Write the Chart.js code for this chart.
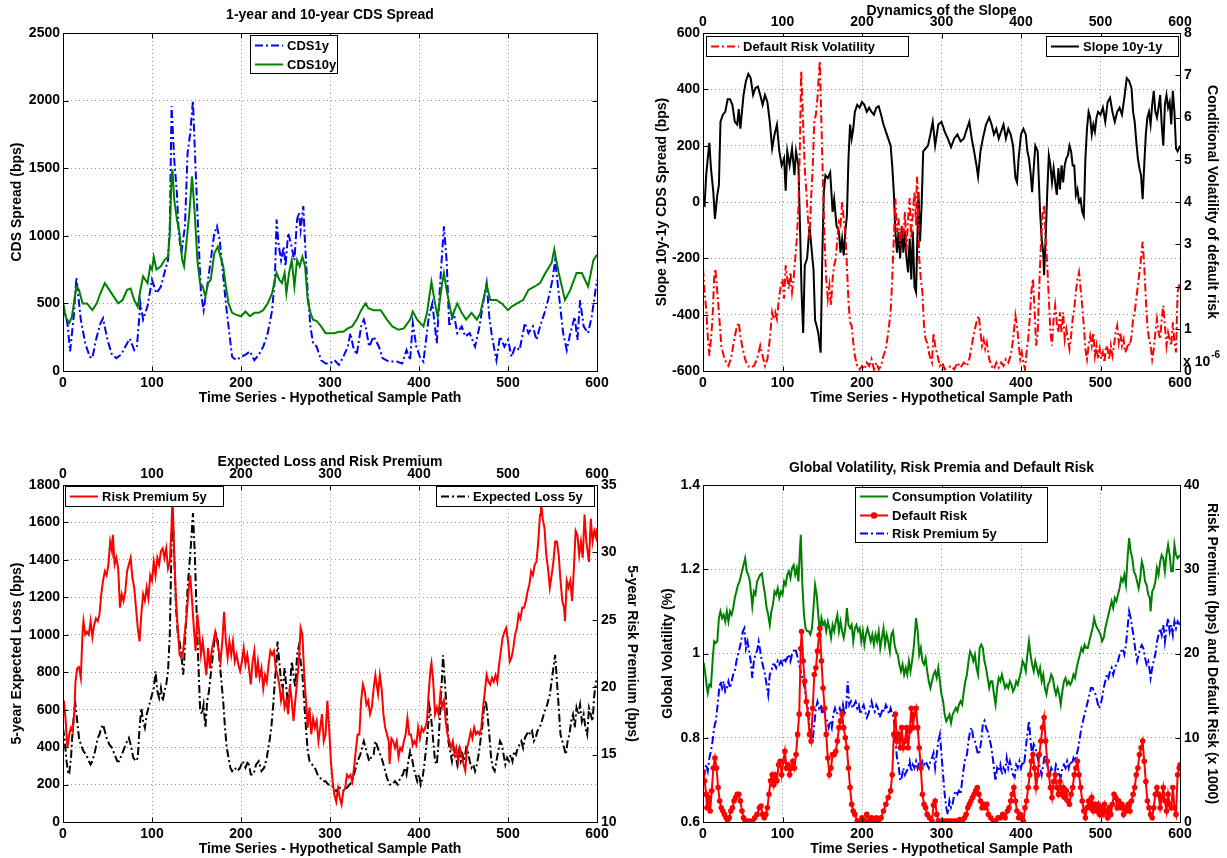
<!DOCTYPE html>
<html lang="en">
<head>
<meta charset="UTF-8">
<title>CDS spreads, slope, expected loss and volatility</title>
<script src="https://cdn.jsdelivr.net/npm/chart.js"></script>
<style>
  body { margin: 0; background: #fff; }
  .wrap { position: relative; width: 1227px; height: 858px; }
  .wrap canvas { position: absolute; left: 0; top: 0; }
</style>
</head>
<body>
<div class="wrap">
  <canvas id="cds" width="1227" height="858"></canvas>
  <canvas id="slope" width="1227" height="858"></canvas>
  <canvas id="loss" width="1227" height="858"></canvas>
  <canvas id="vol" width="1227" height="858"></canvas>
</div>
<script>
// ---- data, [time, value] ----
const cds1y = [[0,500],[5,350],[8,145],[12,400],[15,690],[20,380],[25,205],[30,105],[33,95],[37,230],[42,350],[45,390],[50,230],[55,120],[60,95],[65,120],[70,180],[75,240],[80,155],[83,180],[87,500],[90,380],[95,480],[100,675],[105,575],[110,625],[115,750],[118,820],[120,1070],[122,1960],[125,1560],[128,1315],[130,1020],[133,870],[137,1070],[140,1615],[143,1760],[146,2000],[149,1490],[152,1020],[155,575],[158,450],[162,625],[166,820],[170,1020],[173,1070],[176,970],[180,700],[183,500],[186,330],[190,105],[195,80],[200,105],[205,120],[210,145],[215,80],[220,120],[225,180],[230,280],[235,450],[238,675],[240,1120],[242,945],[245,820],[248,920],[250,775],[253,1020],[256,945],[260,820],[263,1120],[265,1170],[267,1045],[270,1220],[272,945],[275,575],[278,330],[281,205],[285,180],[290,80],[295,55],[300,55],[305,80],[310,45],[315,105],[320,180],[323,280],[326,180],[330,120],[335,330],[338,380],[340,330],[344,180],[349,255],[355,180],[359,95],[366,70],[375,70],[381,55],[386,155],[390,80],[393,355],[397,180],[401,105],[405,70],[411,400],[415,500],[420,205],[424,675],[428,1070],[431,820],[434,330],[439,430],[443,280],[448,330],[452,255],[457,280],[463,180],[468,330],[472,500],[476,650],[479,400],[482,255],[487,80],[491,255],[496,180],[500,230],[504,105],[508,180],[513,155],[519,355],[523,280],[528,330],[532,230],[536,330],[541,430],[545,525],[550,675],[553,820],[557,575],[562,280],[566,155],[570,280],[575,400],[578,230],[581,525],[585,330],[590,280],[594,400],[600,675]];
const cds10y = [[0,500],[3,400],[7,355],[10,400],[15,625],[18,600],[22,500],[27,500],[30,475],[33,450],[38,500],[42,575],[47,650],[52,600],[57,550],[62,500],[67,525],[72,600],[76,610],[80,525],[84,475],[87,600],[90,700],[95,650],[98,775],[100,750],[102,845],[105,750],[110,775],[114,820],[118,845],[120,1020],[122,1440],[123,1490],[125,1265],[128,1120],[131,1020],[134,820],[136,775],[139,970],[142,1170],[145,1440],[148,1170],[151,820],[154,650],[157,625],[160,550],[163,650],[166,675],[170,870],[174,920],[177,845],[180,775],[183,625],[186,500],[190,430],[195,415],[200,405],[205,440],[210,405],[215,430],[220,430],[225,450],[230,500],[235,575],[238,675],[240,725],[243,675],[246,650],[249,725],[251,575],[254,725],[257,820],[260,625],[263,820],[266,775],[269,845],[272,775],[275,525],[278,430],[281,380],[285,370],[290,330],[295,280],[300,280],[305,280],[310,290],[315,290],[320,315],[325,330],[330,380],[335,450],[340,500],[343,465],[349,450],[357,450],[364,380],[370,330],[377,305],[383,315],[390,380],[393,440],[398,380],[405,330],[409,430],[414,660],[418,500],[421,400],[426,650],[428,725],[431,600],[437,400],[443,500],[448,430],[453,380],[459,430],[465,380],[469,430],[476,640],[480,525],[487,525],[493,500],[500,450],[504,475],[510,500],[517,525],[523,600],[530,625],[536,650],[542,725],[549,800],[552,900],[557,725],[564,525],[570,600],[577,725],[583,725],[590,625],[596,820],[600,860]];

const slope = [[0,-5],[2,-12],[4,95],[6,155],[8,210],[10,120],[13,35],[15,-60],[18,25],[20,60],[22,285],[25,310],[28,320],[31,365],[34,365],[37,345],[40,285],[43,275],[45,330],[47,260],[49,320],[51,380],[54,430],[57,455],[60,440],[63,380],[66,405],[69,410],[72,380],[75,345],[78,380],[81,355],[84,285],[87,190],[90,240],[93,275],[96,180],[99,130],[102,155],[104,40],[106,180],[109,130],[112,190],[115,95],[117,180],[120,130],[122,-85],[124,-320],[126,-465],[128,-225],[131,-200],[134,-85],[137,-180],[139,-240],[141,-420],[143,-440],[145,-465],[148,-535],[150,-200],[152,35],[154,95],[157,85],[160,105],[163,-35],[165,10],[168,-85],[171,-105],[173,-180],[175,-130],[177,-190],[179,-105],[181,-50],[183,155],[185,275],[187,225],[189,260],[191,320],[194,345],[197,335],[200,355],[203,345],[206,320],[209,335],[212,320],[215,310],[218,335],[221,340],[224,310],[227,275],[230,250],[233,225],[236,200],[238,130],[240,35],[242,-105],[244,-180],[246,-105],[248,-200],[250,-85],[252,-180],[254,-105],[256,-200],[258,-250],[260,-130],[262,-275],[264,-105],[266,-300],[268,-320],[270,-85],[271,35],[273,-140],[275,-10],[277,180],[280,190],[283,200],[286,240],[289,285],[292,200],[296,275],[300,285],[304,250],[308,225],[312,195],[316,225],[320,240],[324,215],[328,225],[332,260],[335,285],[338,225],[341,180],[344,130],[346,90],[349,180],[352,225],[356,275],[360,300],[363,275],[366,240],[369,260],[372,225],[375,250],[378,275],[381,225],[384,260],[387,240],[390,200],[393,85],[395,70],[397,155],[400,240],[403,260],[406,240],[408,180],[410,155],[412,105],[414,35],[416,120],[418,200],[421,180],[424,-35],[426,-130],[428,-180],[429,-260],[431,-130],[433,35],[435,165],[437,130],[439,70],[441,120],[443,70],[445,25],[447,120],[449,45],[451,130],[453,70],[455,130],[457,155],[459,165],[461,200],[463,180],[465,130],[467,130],[469,25],[471,45],[473,0],[475,10],[477,-35],[479,-50],[481,155],[483,260],[485,320],[487,300],[489,240],[491,275],[493,250],[495,300],[497,320],[500,310],[503,335],[506,285],[509,355],[512,370],[515,320],[518,285],[521,320],[524,335],[527,310],[530,370],[533,440],[536,430],[539,405],[541,320],[543,285],[545,215],[547,155],[549,120],[551,95],[553,10],[555,130],[557,240],[559,300],[561,320],[563,275],[565,345],[567,395],[569,320],[571,300],[573,335],[575,380],[577,275],[579,200],[581,345],[583,380],[585,335],[587,355],[589,275],[591,395],[593,320],[595,190],[597,180],[600,200]];
// conditional volatility of default risk, in units of 1e-6
const defaultVol = [[0,2.42],[2,1.87],[4,1.47],[6,0.83],[8,0.36],[10,0.75],[12,1.23],[14,2.18],[15.5,2.42],[18,1.87],[20,1.39],[23,0.6],[26,0.36],[29,0.2],[32,0.12],[35,0.28],[38,0.6],[41,0.91],[43,1.07],[45,1.15],[47,0.83],[50,0.52],[53,0.28],[56,0.12],[60,0.08],[64,0.12],[68,0.28],[72,0.6],[75,0.36],[78,0.12],[81,0.28],[84,0.75],[87,1.39],[89,1.23],[91,1.39],[93,1.23],[96,1.79],[98,2.02],[100,2.18],[102,1.71],[104,2.5],[106,2.18],[108,1.94],[110,2.34],[112,1.87],[114,2.18],[116,2.66],[118,3.13],[120,3.85],[122,5.44],[123.5,7.1],[126,5.83],[128,4.8],[130,4.25],[132,3.61],[134,3.13],[136,4.09],[138,4.8],[140,5.91],[142,6.07],[144,6.47],[146,7.1],[147,7.34],[149,5.83],[151,4.4],[153,3.06],[155,2.18],[157,1.71],[159,2.02],[161,1.55],[163,2.18],[165,2.5],[167,2.66],[169,3.13],[171,3.53],[173,3.45],[175,4.0],[177,3.61],[179,3.29],[181,2.5],[183,1.63],[185,1.15],[187,1.07],[189,0.67],[191,0.36],[194,0.12],[197,0.04],[200,0.12],[203,0.04],[206,0.2],[209,0.12],[212,0.28],[215,0.04],[218,0.2],[221,0.04],[224,0.12],[227,0.36],[230,0.52],[233,0.91],[236,1.39],[238,2.18],[240,3.13],[242,4.09],[244,3.29],[246,3.61],[248,2.98],[250,3.45],[252,3.13],[254,3.77],[256,2.82],[258,3.61],[260,4.09],[262,3.13],[264,3.77],[266,4.25],[268,3.45],[269,4.6],[270,4.4],[272,2.66],[274,2.18],[276,1.87],[278,1.07],[280,0.75],[282,0.67],[285,0.36],[288,0.2],[290,0.9],[292,0.6],[295,0.36],[298,0.12],[301,0.2],[304,0.04],[308,0.08],[312,0.12],[316,0.04],[320,0.2],[324,0.08],[328,0.2],[332,0.12],[335,0.28],[338,0.6],[341,0.91],[343,1.07],[345,1.23],[347,1.31],[349,0.91],[351,0.6],[353,0.75],[355,0.52],[357,0.67],[360,0.28],[363,0.12],[366,0.04],[369,0.2],[372,0.08],[375,0.2],[378,0.12],[381,0.28],[384,0.2],[387,0.36],[389,0.6],[391,0.91],[393,1.31],[395,1.07],[397,0.67],[399,0.28],[401,0.44],[403,0.2],[405,0.04],[407,0.44],[409,0.75],[411,1.23],[413,1.87],[415,2.18],[417,1.47],[419,0.6],[421,0.91],[423,2.02],[425,2.98],[427,3.69],[429,3.93],[431,3.13],[433,2.5],[435,1.71],[437,0.91],[439,0.6],[441,1.23],[443,1.55],[445,1.15],[447,0.91],[449,1.39],[451,0.91],[453,1.39],[455,0.75],[457,0.99],[459,0.75],[461,0.52],[463,0.83],[465,1.23],[467,1.47],[469,1.87],[471,2.18],[473,2.34],[475,1.94],[477,1.55],[479,1.07],[481,0.52],[483,0.28],[485,0.6],[487,0.83],[489,0.6],[491,0.91],[493,0.36],[495,0.6],[497,0.28],[499,0.52],[501,0.28],[503,0.44],[505,0.2],[507,0.6],[509,0.52],[511,0.28],[513,0.6],[515,0.36],[517,0.6],[519,0.91],[521,1.07],[523,0.67],[525,0.91],[527,0.6],[529,0.75],[531,0.44],[533,0.52],[535,0.67],[537,0.6],[539,0.83],[541,1.23],[543,1.39],[545,1.71],[547,2.02],[549,2.34],[551,2.66],[553,3.06],[555,2.5],[557,1.71],[559,1.07],[561,0.75],[563,0.6],[565,0.28],[567,0.52],[569,0.91],[571,1.23],[573,0.91],[575,0.75],[577,1.23],[579,1.55],[581,1.07],[583,0.6],[585,0.91],[587,0.75],[589,0.6],[591,1.15],[593,0.67],[595,0.44],[597,1.87],[600,2.1]];

const riskPremium5y = [[0,18.5],[1,19.0],[3,17.5],[5,15.5],[7,16.5],[9,17.0],[11,16.7],[13,18.5],[14,20.4],[16,21.4],[18,21.5],[20,20.7],[22,24.1],[23,24.9],[25,23.9],[27,24.1],[29,23.9],[31,24.9],[33,23.7],[35,24.6],[37,25.1],[39,24.9],[41,25.4],[43,26.9],[45,27.9],[47,28.6],[49,28.3],[51,29.1],[53,30.8],[55,30.1],[56,31.3],[58,29.1],[60,29.6],[62,28.8],[64,25.9],[66,26.9],[68,26.4],[70,27.1],[72,28.6],[74,29.1],[76,29.6],[78,28.1],[80,27.4],[82,25.9],[84,24.4],[86,23.4],[88,25.4],[90,26.9],[92,26.4],[94,27.4],[96,26.6],[98,28.3],[100,27.9],[102,29.3],[104,28.3],[106,29.6],[108,29.1],[110,30.1],[112,30.3],[114,29.6],[116,30.3],[118,28.8],[120,29.3],[122,32.0],[123,34.3],[125,29.8],[127,26.4],[129,24.4],[131,22.4],[133,22.2],[135,22.7],[137,24.1],[139,25.4],[141,27.1],[143,28.3],[145,26.4],[147,24.4],[149,22.7],[151,25.4],[153,24.1],[155,22.4],[157,23.4],[159,22.2],[161,20.9],[163,22.9],[165,21.4],[167,22.7],[169,23.4],[171,24.1],[173,23.4],[175,22.7],[177,21.9],[179,23.4],[181,25.6],[183,23.4],[185,22.2],[187,23.4],[189,22.4],[191,23.4],[193,21.9],[195,22.4],[197,21.7],[199,21.2],[201,21.9],[203,22.9],[205,21.7],[207,22.4],[209,21.4],[211,20.2],[213,21.9],[215,22.7],[217,20.7],[219,21.9],[221,20.7],[223,21.4],[225,19.9],[227,20.9],[229,20.4],[231,21.7],[233,22.7],[235,22.4],[237,22.7],[239,21.4],[241,20.9],[243,20.2],[245,19.0],[247,19.7],[249,18.5],[251,19.0],[253,18.0],[255,20.2],[257,19.0],[259,17.5],[261,19.0],[263,20.4],[265,21.9],[267,24.4],[269,23.9],[271,20.9],[273,19.0],[275,17.0],[277,18.5],[279,16.5],[281,17.7],[283,17.0],[285,17.5],[287,16.0],[289,17.0],[291,18.0],[293,16.0],[295,16.5],[297,19.0],[299,17.0],[301,14.5],[303,13.0],[305,12.0],[307,11.5],[309,12.5],[311,11.8],[313,11.3],[315,12.3],[317,12.5],[319,13.5],[321,13.3],[323,13.5],[325,13.0],[327,14.0],[329,15.3],[331,16.5],[333,16.5],[335,19.0],[337,20.2],[339,19.7],[341,18.7],[343,19.0],[345,18.0],[347,18.5],[349,19.9],[351,20.9],[352,20.4],[354,19.5],[356,20.9],[358,19.9],[360,18.0],[362,17.0],[364,16.5],[366,16.0],[367,14.3],[369,16.2],[371,16.0],[373,15.5],[375,16.0],[377,14.8],[379,15.5],[381,15.3],[383,16.0],[385,16.5],[387,17.7],[389,16.5],[391,16.5],[393,15.7],[395,16.0],[397,15.7],[399,17.0],[401,16.2],[403,17.0],[405,16.7],[407,17.0],[409,17.5],[411,19.7],[413,21.4],[414,21.8],[416,20.4],[418,18.0],[420,18.5],[422,18.0],[424,19.5],[426,18.5],[428,19.0],[430,17.5],[432,16.5],[434,16.0],[436,15.5],[438,16.0],[440,15.0],[442,15.5],[444,14.5],[446,15.5],[448,15.0],[450,14.3],[452,13.8],[454,15.5],[456,16.0],[458,16.7],[460,16.2],[462,17.0],[464,16.5],[466,16.7],[468,16.5],[470,17.0],[472,18.5],[474,19.7],[476,20.9],[478,20.4],[480,20.2],[482,20.7],[484,20.4],[486,20.9],[488,20.4],[490,21.7],[492,22.7],[494,23.7],[496,24.1],[498,24.4],[500,23.4],[502,21.9],[504,22.2],[506,22.9],[508,23.9],[510,24.4],[512,25.4],[514,25.1],[516,25.9],[518,25.9],[520,26.4],[522,27.1],[524,27.6],[526,28.6],[528,28.3],[530,29.1],[532,29.3],[534,30.8],[536,32.8],[537,33.8],[539,32.5],[541,31.8],[543,29.8],[545,28.8],[547,27.4],[549,28.3],[551,29.3],[553,30.8],[555,30.8],[557,29.8],[559,27.9],[561,26.4],[563,25.9],[564,24.9],[566,27.9],[568,27.4],[570,27.9],[572,26.4],[574,28.8],[576,31.6],[578,31.3],[580,29.8],[582,30.8],[584,29.6],[586,32.8],[588,30.8],[590,29.8],[591,29.3],[593,32.5],[595,30.8],[597,31.6],[599,31.1],[600,31.8]];
const expectedLoss5y = [[0,503],[2,432],[4,325],[6,254],[7,260],[9,343],[11,503],[13,609],[14,627],[16,538],[18,449],[20,414],[23,378],[26,360],[29,325],[31,307],[33,325],[36,378],[39,449],[41,467],[43,503],[45,520],[47,485],[49,449],[52,414],[55,396],[58,360],[61,325],[63,325],[66,360],[69,396],[72,432],[74,449],[76,414],[79,343],[82,325],[84,343],[86,503],[88,609],[90,538],[92,503],[94,574],[96,609],[98,645],[100,680],[102,716],[104,805],[106,698],[108,663],[110,716],[112,645],[114,698],[116,734],[118,805],[120,1000],[122,1497],[123,1660],[125,1426],[127,1142],[129,1000],[131,964],[133,893],[135,787],[136,840],[138,1053],[140,1249],[142,1373],[144,1497],[146,1650],[148,1444],[150,1142],[152,858],[154,609],[156,574],[158,627],[160,503],[162,645],[164,698],[166,787],[168,876],[170,964],[172,1000],[174,964],[176,858],[178,751],[180,645],[182,503],[184,396],[186,343],[188,290],[190,272],[193,290],[196,272],[199,290],[202,325],[205,290],[208,325],[211,254],[214,254],[217,307],[220,325],[223,272],[226,290],[229,343],[232,432],[234,503],[236,609],[238,751],[240,858],[241,964],[243,858],[245,751],[247,716],[249,822],[251,716],[253,609],[255,716],[257,858],[259,787],[261,716],[263,893],[265,940],[267,858],[269,787],[271,645],[273,503],[275,378],[277,325],[280,307],[283,290],[286,254],[289,236],[292,218],[295,218],[298,200],[301,200],[304,183],[307,165],[310,183],[313,183],[316,165],[319,183],[322,200],[325,218],[328,272],[331,325],[334,360],[336,396],[338,432],[340,396],[342,360],[344,325],[346,343],[349,360],[351,432],[355,378],[358,343],[361,290],[364,236],[367,200],[370,200],[373,218],[376,200],[379,236],[382,254],[384,290],[386,254],[388,325],[390,378],[392,343],[394,290],[396,254],[398,218],[400,254],[402,200],[404,236],[406,307],[408,396],[410,503],[412,609],[414,538],[416,432],[418,325],[420,307],[422,432],[424,609],[426,787],[427,890],[429,751],[431,609],[433,432],[435,378],[437,325],[439,396],[441,360],[443,307],[445,378],[447,325],[449,360],[451,325],[453,396],[455,378],[457,325],[459,290],[461,307],[463,272],[465,307],[467,360],[469,432],[471,503],[473,609],[475,650],[477,574],[479,467],[481,343],[483,290],[485,272],[487,325],[489,378],[491,432],[493,414],[495,360],[497,307],[499,343],[501,325],[503,360],[505,325],[507,378],[509,360],[511,396],[513,414],[515,432],[517,396],[519,449],[521,467],[523,485],[525,467],[527,485],[529,432],[531,449],[533,485],[535,503],[537,520],[539,556],[541,590],[543,609],[545,645],[547,680],[549,751],[551,822],[553,893],[555,751],[557,609],[559,467],[561,432],[563,396],[565,360],[567,432],[569,467],[571,538],[573,574],[575,503],[577,609],[579,574],[581,627],[583,538],[585,574],[587,503],[589,467],[591,609],[593,574],[595,538],[597,680],[599,751],[600,751]];

// consumption volatility in %, risk premium in bps, default risk x 1000
const consVol = [[0,0.966],[1,0.978],[3,0.95],[5,0.918],[6,0.906],[8,0.926],[10,0.922],[12,0.98],[14,1.029],[16,1.025],[18,1.029],[20,1.084],[22,1.1],[24,1.084],[26,1.092],[28,1.076],[30,1.1],[32,1.076],[34,1.1],[36,1.092],[38,1.108],[40,1.132],[42,1.147],[44,1.163],[46,1.171],[48,1.187],[50,1.203],[52,1.218],[53,1.226],[55,1.195],[57,1.187],[59,1.171],[61,1.132],[62,1.112],[64,1.147],[66,1.14],[68,1.171],[70,1.179],[72,1.187],[74,1.19],[76,1.163],[78,1.14],[80,1.108],[82,1.092],[84,1.068],[86,1.1],[88,1.116],[90,1.147],[92,1.14],[94,1.155],[96,1.132],[98,1.147],[100,1.14],[102,1.171],[104,1.163],[106,1.187],[108,1.195],[110,1.179],[112,1.203],[114,1.21],[116,1.187],[118,1.203],[120,1.171],[122,1.25],[123,1.282],[125,1.163],[127,1.092],[129,1.06],[131,1.053],[133,1.053],[135,1.045],[137,1.06],[139,1.108],[141,1.163],[143,1.14],[145,1.092],[147,1.045],[149,1.084],[151,1.068],[153,1.076],[155,1.053],[157,1.076],[159,1.06],[161,1.037],[163,1.068],[165,1.053],[167,1.076],[169,1.092],[171,1.053],[173,1.076],[175,1.053],[177,1.037],[179,1.06],[181,1.108],[183,1.068],[185,1.06],[187,1.068],[189,1.029],[191,1.06],[193,1.068],[195,1.053],[197,1.06],[199,1.029],[201,1.053],[203,1.021],[205,1.045],[207,1.06],[209,1.045],[211,1.029],[213,1.045],[215,1.021],[217,1.045],[219,1.029],[221,1.053],[223,1.013],[225,1.037],[227,1.06],[229,1.021],[231,1.045],[233,1.029],[235,1.005],[237,1.045],[239,1.053],[241,1.021],[243,1.005],[245,0.997],[247,0.974],[249,0.958],[251,0.974],[253,0.95],[255,0.966],[257,0.95],[259,0.982],[261,0.958],[263,0.982],[265,1.013],[267,1.06],[268,1.084],[270,1.053],[272,0.997],[274,1.013],[276,0.982],[278,0.974],[280,0.989],[282,0.958],[284,0.934],[286,0.918],[288,0.934],[290,0.95],[292,0.958],[294,0.942],[296,0.966],[298,0.934],[300,0.903],[302,0.887],[304,0.855],[306,0.839],[308,0.847],[310,0.855],[312,0.835],[314,0.855],[316,0.863],[318,0.871],[320,0.863],[322,0.879],[324,0.887],[326,0.879],[328,0.91],[330,0.934],[332,0.95],[334,0.982],[336,1.005],[338,0.997],[340,0.982],[342,0.997],[344,0.966],[346,0.95],[348,1.013],[350,1.021],[352,1.013],[354,0.982],[356,0.966],[358,0.942],[360,0.918],[362,0.934],[364,0.934],[366,0.903],[368,0.879],[370,0.918],[372,0.942],[374,0.934],[376,0.95],[378,0.934],[380,0.918],[382,0.926],[384,0.918],[386,0.934],[388,0.926],[390,0.91],[392,0.918],[394,0.934],[396,0.926],[398,0.942],[400,0.958],[402,0.982],[404,0.974],[406,0.958],[408,0.997],[410,1.029],[412,0.997],[414,0.974],[416,0.958],[418,0.982],[420,0.966],[422,0.95],[424,0.966],[426,0.934],[428,0.95],[430,0.918],[432,0.903],[434,0.926],[436,0.934],[438,0.95],[440,0.942],[442,0.918],[444,0.903],[446,0.918],[448,0.903],[450,0.879],[452,0.91],[454,0.934],[456,0.942],[458,0.926],[460,0.934],[462,0.926],[464,0.934],[466,0.95],[468,0.942],[470,0.966],[472,0.982],[474,0.997],[476,1.013],[478,1.005],[480,1.021],[482,1.013],[484,1.013],[486,1.029],[488,1.045],[490,1.06],[492,1.084],[494,1.068],[496,1.06],[498,1.053],[500,1.045],[502,1.029],[504,1.037],[506,1.06],[508,1.076],[510,1.092],[512,1.108],[514,1.124],[516,1.108],[518,1.132],[520,1.124],[522,1.14],[524,1.155],[526,1.179],[528,1.171],[530,1.187],[532,1.163],[534,1.226],[536,1.274],[538,1.242],[540,1.226],[542,1.195],[544,1.187],[546,1.171],[548,1.155],[550,1.179],[552,1.218],[554,1.203],[556,1.171],[558,1.163],[560,1.14],[562,1.132],[563,1.1],[565,1.147],[567,1.155],[569,1.171],[571,1.203],[573,1.187],[575,1.218],[577,1.234],[579,1.226],[581,1.195],[583,1.234],[585,1.258],[587,1.234],[589,1.195],[591,1.195],[593,1.258],[595,1.234],[597,1.226],[600,1.234]];
const defaultRisk = [[0,6.0],[2,4.9],[4,3.3],[5,1.7],[7,2.9],[9,1.3],[11,3.7],[13,6.4],[15,7.6],[17,6.4],[19,4.1],[21,2.5],[23,1.7],[25,1.3],[27,0.9],[29,0.5],[31,0.1],[33,0.5],[35,1.3],[37,1.7],[39,2.5],[41,2.9],[43,3.3],[45,3.3],[47,2.5],[49,1.3],[51,0.5],[53,0.1],[56,0.1],[59,0.1],[62,0.1],[65,0.5],[68,0.9],[71,1.7],[73,1.9],[75,0.9],[77,0.5],[79,0.9],[81,1.7],[83,3.3],[85,4.9],[87,5.6],[89,4.4],[91,5.6],[93,4.9],[95,6.8],[97,7.2],[99,5.6],[101,7.2],[103,8.4],[105,6.4],[107,6.8],[109,5.6],[111,6.4],[113,7.2],[115,6.4],[117,8.0],[119,10.4],[121,12.8],[123,20.6],[124,22.6],[126,19.1],[128,16.7],[130,14.3],[132,12.8],[134,10.4],[136,9.6],[138,13.5],[140,17.5],[142,18.3],[144,20.3],[146,22.2],[147,23.0],[149,19.1],[151,15.9],[153,13.5],[155,10.4],[157,7.6],[159,5.6],[161,6.4],[163,8.0],[165,8.0],[167,8.4],[169,9.6],[171,11.2],[173,12.0],[175,12.8],[177,11.2],[179,10.0],[181,8.8],[183,6.4],[185,4.1],[187,2.1],[189,1.3],[191,0.9],[194,0.1],[197,0.1],[200,0.5],[203,0.1],[206,0.9],[209,0.1],[212,0.5],[215,0.1],[218,0.5],[221,0.1],[224,0.5],[227,1.3],[230,2.1],[233,2.9],[236,3.7],[238,5.6],[240,10.4],[242,12.8],[244,9.6],[246,10.4],[248,8.8],[250,11.2],[252,8.8],[254,9.6],[256,11.2],[258,8.8],[260,10.8],[262,13.5],[264,11.2],[266,12.8],[268,13.5],[270,11.2],[272,8.8],[274,6.4],[276,3.3],[278,2.1],[280,1.7],[282,0.9],[285,0.5],[288,0.1],[290,2.0],[292,2.5],[294,0.9],[296,0.1],[299,0.1],[302,0.1],[305,0.1],[308,0.1],[311,0.1],[314,0.1],[317,0.1],[320,0.1],[323,0.3],[326,0.1],[329,0.5],[331,0.9],[333,1.7],[335,2.1],[337,2.5],[339,2.9],[341,3.3],[343,3.7],[345,4.1],[347,3.3],[349,2.5],[351,1.7],[353,2.1],[355,1.7],[357,2.1],[359,0.9],[362,0.5],[365,0.1],[368,0.1],[371,0.5],[374,0.5],[377,0.9],[380,0.5],[383,1.3],[385,1.7],[387,2.5],[389,3.3],[391,4.1],[393,2.5],[395,1.3],[397,0.5],[399,0.9],[401,0.5],[403,0.1],[405,1.7],[407,2.5],[409,4.1],[411,5.6],[413,7.2],[415,8.0],[417,6.4],[419,4.1],[421,5.6],[423,8.0],[425,9.6],[427,11.2],[429,12.4],[431,9.6],[433,7.2],[435,5.6],[437,4.1],[439,2.9],[441,4.8],[443,5.6],[445,4.1],[447,3.3],[449,4.8],[451,3.3],[453,4.1],[455,2.9],[457,3.7],[459,2.5],[461,2.1],[463,3.3],[465,4.1],[467,5.6],[469,6.4],[471,7.2],[473,5.6],[475,4.1],[477,2.5],[479,1.3],[481,0.5],[483,1.7],[485,2.5],[487,1.7],[489,2.9],[491,1.3],[493,2.1],[495,1.3],[497,2.1],[499,0.9],[501,1.7],[503,0.9],[505,2.1],[507,1.3],[509,0.5],[511,1.7],[513,0.9],[515,2.1],[517,3.3],[519,2.9],[521,1.7],[523,2.5],[525,1.7],[527,2.1],[529,0.9],[531,1.7],[533,1.3],[535,2.1],[537,1.3],[539,2.5],[541,3.3],[543,4.1],[545,5.6],[547,6.4],[549,8.0],[551,8.8],[553,9.6],[555,7.2],[557,4.8],[559,2.5],[561,1.7],[563,0.9],[565,0.5],[567,1.7],[569,3.3],[571,4.1],[573,3.3],[575,1.7],[577,2.9],[579,4.1],[581,2.5],[583,1.3],[585,3.3],[587,2.1],[589,1.7],[591,4.1],[593,1.7],[595,0.9],[597,5.6],[599,6.4],[600,6.8]];
const riskPremiumBps = [[0,5.25],[2,5.65],[4,6.83],[6,6.04],[8,7.62],[10,8.41],[12,9.59],[14,11.17],[16,11.96],[18,13.54],[20,15.5],[22,16.7],[24,15.9],[26,16.7],[28,15.5],[30,15.9],[32,16.7],[34,15.9],[36,16.7],[38,17.5],[40,17.9],[42,19.1],[44,19.9],[46,20.6],[48,21.4],[50,22.6],[52,23.0],[54,20.6],[56,21.4],[58,20.3],[60,19.1],[62,17.1],[64,19.1],[66,19.9],[68,20.3],[70,21.4],[72,20.3],[74,19.1],[76,18.3],[78,17.5],[80,16.3],[82,15.1],[84,17.5],[86,17.9],[88,18.7],[90,18.7],[92,18.3],[94,19.1],[96,18.7],[98,19.1],[100,18.7],[102,19.5],[104,19.1],[106,19.5],[108,19.9],[110,19.1],[112,19.9],[114,20.3],[116,20.6],[118,19.9],[120,19.1],[122,18.3],[124,17.5],[126,16.7],[128,15.9],[130,14.3],[132,13.5],[134,11.2],[136,10.4],[138,9.6],[140,11.6],[142,13.5],[144,14.3],[146,13.5],[148,13.9],[150,12.8],[152,13.5],[154,12.4],[156,12.0],[158,11.2],[160,12.0],[162,11.2],[164,12.8],[166,13.5],[168,12.8],[170,13.1],[172,13.5],[174,12.8],[176,13.9],[178,12.8],[180,13.5],[182,16.7],[184,13.9],[186,14.3],[188,13.5],[190,13.9],[192,14.3],[194,13.5],[196,13.9],[198,12.8],[200,13.5],[202,13.9],[204,13.1],[206,12.4],[208,12.8],[210,13.5],[212,14.3],[214,13.5],[216,13.1],[218,13.9],[220,13.5],[222,12.4],[224,12.8],[226,13.5],[228,13.1],[230,13.9],[232,13.5],[234,12.8],[236,13.5],[238,12.8],[240,12.4],[242,9.6],[244,7.6],[246,6.8],[248,4.9],[250,5.3],[252,6.4],[254,5.6],[256,6.0],[258,6.4],[260,7.2],[262,6.0],[264,6.8],[266,6.4],[268,7.2],[270,6.4],[272,7.2],[274,6.4],[276,7.2],[278,6.8],[280,7.2],[282,6.8],[284,6.4],[286,7.2],[288,7.6],[290,8.2],[292,6.4],[294,8.0],[296,9.6],[298,10.4],[300,8.0],[302,5.6],[304,3.3],[306,1.7],[308,0.9],[310,2.5],[312,1.7],[314,2.1],[316,3.3],[318,3.7],[320,3.3],[322,3.7],[324,3.3],[326,4.9],[328,6.4],[330,7.6],[332,8.0],[334,9.6],[336,10.8],[338,11.2],[340,10.0],[342,9.6],[344,8.8],[346,8.0],[348,8.4],[350,9.6],[352,11.6],[354,12.0],[356,11.2],[358,10.8],[360,10.0],[362,9.2],[364,8.0],[366,6.4],[368,4.9],[370,6.4],[372,6.0],[374,6.8],[376,5.6],[378,6.4],[380,6.0],[382,7.6],[384,6.4],[386,7.2],[388,6.4],[390,5.6],[392,5.3],[394,6.8],[396,6.4],[398,7.2],[400,6.4],[402,7.2],[404,6.8],[406,8.8],[408,10.4],[410,12.0],[412,9.6],[414,8.0],[416,9.2],[418,8.8],[420,8.0],[422,7.2],[424,6.4],[426,5.6],[428,6.8],[430,8.0],[432,7.2],[434,6.4],[436,5.6],[438,6.4],[440,6.0],[442,5.6],[444,6.8],[446,6.4],[448,5.6],[450,5.3],[452,6.4],[454,6.8],[456,6.4],[458,7.2],[460,6.4],[462,7.2],[464,6.8],[466,7.6],[468,7.2],[470,8.0],[472,8.8],[474,10.0],[476,11.2],[478,12.0],[480,12.8],[482,13.5],[484,14.3],[486,15.1],[488,15.9],[490,15.9],[492,15.5],[494,15.1],[496,14.3],[498,13.5],[500,13.9],[502,14.7],[504,15.9],[506,16.7],[508,17.5],[510,17.1],[512,17.9],[514,18.3],[516,17.5],[518,18.3],[520,18.7],[522,19.1],[524,19.9],[526,20.3],[528,20.6],[530,19.9],[532,21.0],[534,23.0],[536,25.0],[538,24.2],[540,23.0],[542,21.8],[544,20.3],[546,19.1],[548,19.9],[550,20.6],[552,21.0],[554,20.6],[556,19.5],[558,18.7],[560,19.1],[562,17.9],[563,17.1],[565,18.3],[567,19.1],[569,19.9],[571,21.4],[573,22.2],[575,23.0],[577,22.2],[579,23.4],[581,21.4],[583,23.0],[585,24.2],[587,22.6],[589,23.4],[591,22.2],[593,23.8],[595,23.0],[597,23.8],[600,23.4]];

// ---- helpers ----
const FONT = '"Liberation Sans", Arial, Helvetica, sans-serif';
Chart.defaults.font.family = FONT;
Chart.defaults.font.weight = 'bold';
Chart.defaults.font.size = 14;
Chart.defaults.color = '#000';
Chart.defaults.animation = false;
Chart.defaults.events = [];

const DASHDOT = [8, 3, 2, 3];
const GRID = { color: '#9a9a9a', lineWidth: 1, drawTicks: false };
const NOGRID = { display: false, drawTicks: false };
const fmt = v => String(Math.round(v * 100) / 100);

function toXY(arr) { return arr.map(p => ({ x: p[0], y: p[1] })); }

function line(label, data, color, extra) {
  return Object.assign({
    label, data: toXY(data), borderColor: color, backgroundColor: color,
    borderWidth: 2, pointRadius: 0, tension: 0, fill: false
  }, extra || {});
}

function drawLegend(ctx, lg) {
  ctx.save();
  ctx.fillStyle = '#fff';
  ctx.fillRect(lg.x, lg.y, lg.w, lg.h);
  ctx.strokeStyle = '#000';
  ctx.lineWidth = 1;
  ctx.strokeRect(lg.x + 0.5, lg.y + 0.5, lg.w, lg.h);
  const rowH = lg.h / lg.items.length;
  lg.items.forEach((it, i) => {
    const cy = Math.round(lg.y + rowH * (i + 0.5)) + 0.5;
    ctx.strokeStyle = it.color;
    ctx.lineWidth = 2;
    ctx.setLineDash(it.dash || []);
    ctx.beginPath();
    ctx.moveTo(lg.x + 5, cy);
    ctx.lineTo(lg.x + 33, cy);
    ctx.stroke();
    ctx.setLineDash([]);
    if (it.marker) {
      ctx.fillStyle = it.color;
      ctx.beginPath();
      ctx.arc(lg.x + 19, cy, 3.2, 0, Math.PI * 2);
      ctx.fill();
    }
    ctx.fillStyle = '#000';
    ctx.font = 'bold 13px ' + FONT;
    ctx.textAlign = 'left';
    ctx.textBaseline = 'middle';
    ctx.fillText(it.label, lg.x + 37, cy + 1);
  });
  ctx.restore();
}

// frame, inward ticks, title and legends drawn over the plot
const framePlugin = {
  id: 'frame',
  afterDraw(chart, args, opts) {
    const { ctx, chartArea: a, scales } = chart;
    const L = Math.round(a.left) + 0.5, T = Math.round(a.top) + 0.5;
    const R = Math.round(a.right) + 0.5, B = Math.round(a.bottom) + 0.5;
    ctx.save();
    ctx.strokeStyle = '#000';
    ctx.lineWidth = 1;
    const seg = (x1, y1, x2, y2) => { ctx.beginPath(); ctx.moveTo(x1, y1); ctx.lineTo(x2, y2); ctx.stroke(); };
    scales.x.ticks.forEach(t => {
      const px = Math.round(scales.x.getPixelForValue(t.value)) + 0.5;
      seg(px, B, px, B - 5);
      seg(px, T, px, T + 5);
    });
    scales.y.ticks.forEach(t => {
      const py = Math.round(scales.y.getPixelForValue(t.value)) + 0.5;
      seg(L, py, L + 5, py);
      if (!scales.y2) seg(R, py, R - 5, py);
    });
    if (scales.y2) {
      scales.y2.ticks.forEach(t => {
        const py = Math.round(scales.y2.getPixelForValue(t.value)) + 0.5;
        seg(R, py, R - 5, py);
      });
    }
    ctx.strokeRect(L, T, R - L, B - T);
    (opts.legends || []).forEach(lg => drawLegend(ctx, lg));
    ctx.fillStyle = '#000';
    ctx.font = 'bold 14px ' + FONT;
    ctx.textAlign = 'center';
    ctx.textBaseline = 'middle';
    ctx.fillText(opts.title, (a.left + a.right) / 2, opts.titleY);
    if (opts.exponent) {
      const e = opts.exponent;
      ctx.textAlign = 'left';
      ctx.font = 'bold 14px ' + FONT;
      ctx.fillText('x 10', e.x, e.y);
      const w = ctx.measureText('x 10').width;
      ctx.font = 'bold 10px ' + FONT;
      ctx.fillText('-6', e.x + w + 1, e.y - 7);
    }
    ctx.restore();
  }
};

function xBottom() {
  return {
    type: 'linear', position: 'bottom', min: 0, max: 600,
    ticks: { stepSize: 100, padding: 4, maxRotation: 0, callback: fmt },
    grid: GRID, border: { display: false, dash: [1, 3] },
    title: { display: true, text: 'Time Series - Hypothetical Sample Path', padding: 0 },
    afterFit: s => { s.height = 36; }
  };
}
function xTop() {
  return {
    type: 'linear', position: 'top', min: 0, max: 600,
    ticks: { stepSize: 100, padding: 2, maxRotation: 0, callback: fmt },
    grid: NOGRID, border: { display: false },
    afterFit: s => { s.height = 20; }
  };
}
function yLeft(min, max, step, text, titlePad, width) {
  return {
    type: 'linear', position: 'left', min, max,
    ticks: { stepSize: step, padding: 3, callback: fmt },
    grid: GRID, border: { display: false, dash: [1, 3] },
    title: { display: true, text, padding: { top: titlePad, bottom: 0 } },
    afterFit: s => { s.width = width; }
  };
}
function yRight(min, max, step, text, titlePad, width) {
  return {
    type: 'linear', position: 'right', min, max,
    ticks: { stepSize: step, padding: 4, callback: fmt },
    grid: NOGRID, border: { display: false },
    title: { display: true, text, padding: { top: titlePad, bottom: 0 } },
    afterFit: s => { s.width = width; }
  };
}
function baseOptions(padding, scales, frame) {
  return {
    responsive: false, animation: false,
    layout: { padding },
    scales,
    plugins: { legend: { display: false }, tooltip: { enabled: false }, frame }
  };
}

// ---- 1-year and 10-year CDS spread ----
new Chart(document.getElementById('cds'), {
  type: 'line',
  data: { datasets: [
    line('CDS1y', cds1y, '#0000ff', { borderDash: DASHDOT, order: 2 }),
    line('CDS10y', cds10y, '#008000', { order: 1 })
  ] },
  options: baseOptions(
    { left: 0, top: 33, right: 630, bottom: 451 },
    { x: xBottom(), y: yLeft(0, 2500, 500, 'CDS Spread (bps)', 9, 63) },
    { title: '1-year and 10-year CDS Spread', titleY: 15,
      legends: [{ x: 250, y: 35, w: 87, h: 38, items: [
        { label: 'CDS1y', color: '#0000ff', dash: DASHDOT },
        { label: 'CDS10y', color: '#008000' }] }] }
  ),
  plugins: [framePlugin]
});

// ---- dynamics of the slope ----
new Chart(document.getElementById('slope'), {
  type: 'line',
  data: { datasets: [
    line('Default Risk Volatility', defaultVol, '#ff0000', { borderDash: DASHDOT, yAxisID: 'y2', order: 1 }),
    line('Slope 10y-1y', slope, '#000000', { yAxisID: 'y', order: 2 })
  ] },
  options: baseOptions(
    { left: 640, top: 13, right: 0, bottom: 451 },
    { x: xBottom(), x2: xTop(),
      y: yLeft(-600, 600, 200, 'Slope 10y-1y CDS Spread (bps)', 14, 63),
      y2: yRight(0, 8, 1, 'Conditional Volatility of default risk', 7, 47) },
    { title: 'Dynamics of the Slope', titleY: 11, exponent: { x: 1183, y: 362 },
      legends: [
        { x: 706, y: 36, w: 202, h: 20, items: [{ label: 'Default Risk Volatility', color: '#ff0000', dash: DASHDOT }] },
        { x: 1046, y: 36, w: 132, h: 20, items: [{ label: 'Slope 10y-1y', color: '#000000' }] }] }
  ),
  plugins: [framePlugin]
});

// ---- expected loss and risk premium ----
new Chart(document.getElementById('loss'), {
  type: 'line',
  data: { datasets: [
    line('Risk Premium 5y', riskPremium5y, '#ff0000', { yAxisID: 'y2', order: 1 }),
    line('Expected Loss 5y', expectedLoss5y, '#000000', { borderDash: DASHDOT, yAxisID: 'y', order: 2 })
  ] },
  options: baseOptions(
    { left: 0, top: 465, right: 580, bottom: 0 },
    { x: xBottom(), x2: xTop(),
      y: yLeft(0, 1800, 200, '5-year Expected Loss (bps)', 9, 63),
      y2: yRight(10, 35, 5, '5-year Risk Premium (bps)', 7, 50) },
    { title: 'Expected Loss and Risk Premium', titleY: 462,
      legends: [
        { x: 65, y: 486, w: 158, h: 20, items: [{ label: 'Risk Premium 5y', color: '#ff0000' }] },
        { x: 436, y: 486, w: 158, h: 20, items: [{ label: 'Expected Loss 5y', color: '#000000', dash: DASHDOT }] }] }
  ),
  plugins: [framePlugin]
});

// ---- global volatility, risk premia and default risk ----
new Chart(document.getElementById('vol'), {
  type: 'line',
  data: { datasets: [
    line('Consumption Volatility', consVol, '#008000', { yAxisID: 'y', order: 3 }),
    line('Default Risk', defaultRisk, '#ff0000', { yAxisID: 'y2', order: 1,
      pointRadius: 2.8, pointStyle: 'circle', pointBorderWidth: 0, pointBackgroundColor: '#ff0000' }),
    line('Risk Premium 5y', riskPremiumBps, '#0000ff', { borderDash: DASHDOT, yAxisID: 'y2', order: 2 })
  ] },
  options: baseOptions(
    { left: 640, top: 485, right: 0, bottom: 0 },
    { x: xBottom(),
      y: yLeft(0.6, 1.4, 0.2, 'Global Volatility (%)', 20, 63),
      y2: yRight(0, 40, 10, 'Risk Premium (bps) and Default Risk (x 1000)', 7, 47) },
    { title: 'Global Volatility, Risk Premia and Default Risk', titleY: 468,
      legends: [{ x: 855, y: 487, w: 192, h: 55, items: [
        { label: 'Consumption Volatility', color: '#008000' },
        { label: 'Default Risk', color: '#ff0000', marker: true },
        { label: 'Risk Premium 5y', color: '#0000ff', dash: DASHDOT }] }] }
  ),
  plugins: [framePlugin]
});
</script>
</body>
</html>
